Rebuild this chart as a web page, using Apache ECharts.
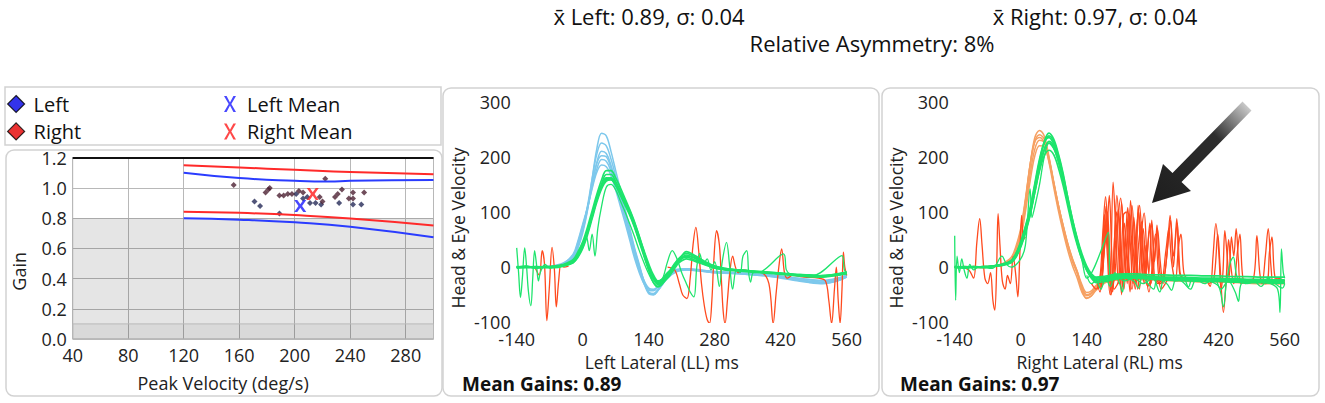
<!DOCTYPE html>
<html>
<head>
<meta charset="utf-8">
<script src="https://cdn.jsdelivr.net/npm/echarts@6/dist/echarts.min.js"></script>
<style>
  html, body { margin: 0; padding: 0; background: #fff; }
  #chart { width: 1325px; height: 403px; }
</style>
</head>
<body>
<div id="chart"></div>
<script>
// ---- gain vs peak velocity ----
const leftGainPoints = [
  [171, 0.91], [175, 0.88], [189, 0.83], [201, 0.96], [209, 0.94], [211, 0.90],
  [215, 0.90], [219, 0.89], [232, 0.90], [242, 0.89], [248, 0.89], [206, 0.93]
];
const rightGainPoints = [
  [156, 1.02], [182, 1.00], [181, 0.99], [179, 0.97], [222, 1.06], [189, 0.95],
  [192, 0.95], [195, 0.96], [198, 0.96], [203, 0.98], [206, 0.97], [218, 0.94],
  [229, 0.94], [231, 0.96], [234, 0.99], [239, 0.93], [242, 0.97], [242, 0.93],
  [250, 0.97], [220, 0.91]
];
const leftMean = [[204, 0.88]];
const rightMean = [[213, 0.96]];
const normUpperRed = [[120, 1.15], [160, 1.135], [200, 1.12], [240, 1.105], [300, 1.09]];
const normUpperBlue = [[120, 1.10], [160, 1.065], [200, 1.047], [225, 1.042], [240, 1.048], [300, 1.052]];
const normLowerRed = [[120, 0.843], [160, 0.835], [200, 0.82], [240, 0.798], [300, 0.752]];
const normLowerBlue = [[120, 0.80], [160, 0.79], [200, 0.772], [240, 0.743], [300, 0.673]];

// ---- impulse traces, sampled at these times (ms) ----
const traceTimes = [-140, -120, -100, -80, -60, -40, -20, -10, 0, 10,
  20, 30, 40, 50, 60, 70, 80, 90, 100, 110,
  120, 130, 140, 150, 160, 180, 200, 220, 240, 260,
  280, 300, 330, 360, 390, 420, 450, 480, 510, 540, 560];

const leftHeadTraces = [
  [0,0,0,0,1,3,15,35,62,102, 160,215,243,238,210,175,140,105,70,35, 5,-25,-45,-48,-40,-15,-5,-3,-5,-8, -10,-10,-12,-14,-16,-20,-24,-28,-30,-25, -18],
  [1,0,-1,0,2,5,18,40,70,110, 160,205,225,220,196,165,130,98,65,32, 2,-26,-46,-50,-42,-18,-6,-4,-6,-8, -9,-10,-11,-13,-15,-18,-22,-26,-28,-24, -17],
  [0,1,0,1,2,6,20,42,72,108, 150,190,210,206,185,156,124,92,60,28, 0,-24,-38,-40,-34,-12,-4,-3,-4,-6, -8,-9,-10,-12,-14,-17,-20,-23,-25,-21, -15],
  [0,0,1,0,3,8,22,45,75,106, 145,178,195,192,174,148,118,88,56,24, -4,-27,-40,-42,-35,-13,-5,-4,-5,-7, -8,-9,-11,-12,-13,-16,-19,-22,-24,-20, -14],
  [-1,0,0,1,2,7,24,48,78,108, 142,172,185,182,166,140,110,80,48,16, -10,-30,-42,-43,-35,-14,-6,-5,-6,-7, -9,-10,-11,-13,-15,-18,-21,-25,-27,-22, -16],
  [0,0,0,0,2,4,16,36,66,104, 150,188,202,200,180,150,120,88,55,22, -6,-30,-48,-50,-42,-20,-8,-5,-6,-8, -10,-11,-12,-14,-16,-19,-23,-27,-29,-25, -18]
];
const leftEyeTraces = [
  [0,2,-2,1,0,3,10,20,38,62, 92,122,150,168,168,155,138,120,102,80, 55,28,2,-20,-30,-15,10,18,12,5, 0,-3,-6,-8,-10,-12,-14,-15,-16,-14, -12],
  [-2,1,0,-1,2,4,12,24,42,66, 96,126,150,162,160,148,130,112,94,72, 46,20,-6,-28,-36,-18,8,22,15,6, -2,-5,-7,-9,-11,-13,-15,-17,-15,-13, -10],
  [1,0,1,0,-1,2,8,18,34,58, 88,118,142,156,158,150,134,116,98,78, 52,26,0,-18,-28,-12,12,25,18,8, 2,-2,-5,-7,-9,-11,-13,-14,-16,-12, -9],
  [0,-1,0,1,1,3,9,20,38,62, 92,122,146,158,160,150,134,116,96,74, 48,22,-2,-20,-26,-10,5,15,10,4, -1,-4,-6,-8,-10,-12,-14,-16,-17,-14, -11],
  [0,1,-1,0,1,5,14,28,46,72, 102,132,158,175,175,162,144,124,104,82, 56,30,6,-14,-25,-14,6,20,16,6, 0,-3,-5,-7,-9,-11,-13,-15,-16,-13, -10],
  [-1,0,0,0,2,4,11,22,40,64, 94,124,146,160,162,152,136,118,98,76, 50,24,-2,-22,-32,-20,4,28,20,10, 2,-2,-6,-8,-10,-12,-15,-17,-18,-15, -12]
];
const rightHeadTraces = [
  [0,0,0,0,1,3,12,30,62,118, 185,235,248,238,200,155,112,75,42,15, -8,-38,-52,-48,-38,-25,-20,-18,-18,-20, -20,-22,-22,-24,-25,-25,-26,-26,-27,-28, -28],
  [0,1,0,-1,2,5,15,34,66,120, 185,228,240,232,198,152,108,70,38,10, -12,-42,-57,-52,-40,-26,-22,-20,-19,-20, -21,-22,-23,-24,-24,-25,-25,-26,-26,-27, -27],
  [1,0,1,0,2,4,14,30,58,108, 168,214,230,226,196,154,112,74,40,12, -10,-36,-50,-46,-35,-22,-18,-16,-16,-17, -18,-19,-20,-21,-22,-22,-23,-24,-25,-25, -26],
  [0,0,0,1,1,3,10,26,52,100, 156,202,220,218,192,152,112,76,42,14, -8,-32,-46,-43,-33,-20,-16,-15,-15,-16, -17,-18,-19,-20,-21,-21,-22,-23,-24,-24, -25],
  [-1,0,0,0,2,6,18,38,70,124, 186,228,235,225,190,145,102,64,30,2, -20,-46,-56,-52,-42,-28,-24,-22,-22,-23, -23,-24,-25,-26,-27,-27,-28,-29,-30,-30, -30]
];
const rightEyeTraces = [
  [0,-2,1,0,2,4,10,22,42,68, 100,145,190,228,243,232,205,170,125,85, 50,20,-2,-15,-20,-18,-15,-14,-15,-16, -17,-18,-18,-19,-20,-20,-21,-22,-22,-23, -23],
  [1,0,-1,1,1,3,8,18,36,62, 94,136,178,212,228,220,196,160,118,80, 46,18,-4,-16,-22,-20,-16,-15,-16,-17, -18,-19,-20,-20,-21,-22,-22,-23,-24,-24, -24],
  [0,1,0,-1,2,5,12,25,46,74, 108,152,196,226,235,224,198,162,122,82, 48,18,-5,-18,-25,-22,-18,-17,-17,-18, -19,-20,-21,-22,-23,-24,-24,-25,-25,-26, -26],
  [-1,0,1,0,1,4,9,20,38,64, 96,136,175,202,212,204,180,148,110,72, 40,14,-6,-20,-28,-26,-22,-20,-20,-21, -22,-23,-24,-25,-26,-26,-27,-28,-28,-29, -29],
  [0,0,0,1,2,5,11,24,44,72, 104,148,192,225,238,228,202,166,126,86, 52,24,2,-12,-18,-16,-13,-12,-12,-13, -14,-14,-15,-15,-16,-16,-17,-17,-18,-18, -18],
  [1,-1,0,0,2,4,10,21,40,66, 98,140,182,214,225,216,192,156,118,80, 46,18,-3,-16,-24,-24,-20,-19,-19,-20, -21,-22,-23,-24,-25,-25,-26,-27,-27,-28, -28]
];

// noisy eye traces and saccades, as [ms, deg/s]
const leftNoisyEye = [[-140,35],[-136,-10],[-132,-55],[-128,-20],[-123,35],[-119,0],[-115,-45],[-110,-70],[-106,-20],[-102,30],[-98,5],[-94,-25],[-90,-10],[-85,0],[-80,5],[-70,-2],[-60,0],[-40,3],[-20,10],[-10,20],[0,35],[8,55],[14,30],[20,60],[26,20],[32,70],[40,110],[50,145],[60,150],[70,140],[80,120],[90,100],[100,78],[110,55],[120,30],[130,8],[140,-12],[150,-28],[160,-35],[170,-20],[180,10],[190,30],[200,15],[210,-10],[220,-30],[228,-45],[236,-54],[242,0],[248,25],[256,5],[264,15],[272,-5],[280,10],[290,-35],[296,10],[305,45],[312,0],[318,-40],[326,-5],[334,-10],[340,20],[348,30],[352,-10],[356,-27],[362,-10],[376,-9],[426,24],[432,-5],[440,-12],[480,-15],[489,-15],[550,21],[555,-5],[560,-10]];
const leftSaccadePre = [[-100,-3],[-92,-15],[-86,30],[-81,5],[-76,-97],[-71,-40],[-65,36],[-60,-5],[-56,-72],[-51,-25],[-46,5],[-40,0],[-30,2]];
const leftSaccadePost = [[180,0],[195,-5],[205,-30],[212,-50],[221,-57],[228,-20],[234,40],[240,72],[246,30],[252,-30],[258,-70],[264,-95],[269,-102],[274,-60],[278,10],[284,66],[290,40],[294,-20],[298,-80],[302,-102],[307,-60],[312,-10],[318,20],[324,0],[330,-10],[340,-5],[360,-8],[380,-10],[395,-30],[404,-102],[410,-50],[416,0],[422,33],[428,-10],[434,-20],[445,-15],[470,-18],[500,-20],[515,-25],[522,-60],[528,-102],[534,-40],[538,0],[542,-60],[546,-102],[550,-40],[553,27],[556,0],[560,-15]];

const rightNoisyEyes = [
  [[-140,57],[-138,-60],[-135,20],[-130,-10],[-125,15],[-120,-5],[-114,-20],[-108,5],[-100,-5],[-90,0],[-60,-2],[-40,20],[-30,5],[-20,0],[0,15],[10,40],[20,142],[24,90],[30,110],[40,150],[50,200],[60,225],[70,215],[80,190],[90,155],[100,115],[110,78],[120,42],[130,12],[140,-20],[186,63],[190,-20],[200,-15],[220,-25],[240,-20],[260,-30],[280,-20],[295,-45],[305,-20],[330,-25],[345,-20],[356,-36],[365,-20],[400,-25],[420,-35],[430,-72],[436,-30],[445,10],[451,18],[460,-20],[480,-30],[500,-25],[530,-30],[545,-40],[550,-82],[553,33],[557,-10],[560,-20]],
  [[140,-15],[150,-30],[160,-25],[170,-40],[180,-20],[190,-35],[200,-10],[210,-30],[216,-45],[222,-20],[240,-25],[250,-38],[258,-15],[270,-30],[282,-40],[290,-20],[310,-30],[320,-42],[330,-20],[345,-28],[360,-40],[372,-22],[390,-30],[410,-20],[425,-40],[440,-25],[455,-45],[462,-62],[468,-30],[490,-22],[510,-35],[525,-20],[540,-30],[555,-38],[560,-30]]
];
const rightSaccadePre = [[-125,0],[-110,-5],[-100,-20],[-93,45],[-87,88],[-82,40],[-76,-20],[-70,-30],[-64,-10],[-59,-60],[-55,-78],[-51,0],[-48,97],[-44,40],[-39,-25],[-33,-40],[-28,-15],[-22,-30],[-16,20],[-11,-10],[-6,-54],[-2,20],[2,94],[6,50],[10,55]];
const rightSaccadeBursts = [
  [[150,-30],[160,-40],[168,-20],[174,60],[180,128],[185,60],[190,-20],[196,154],[202,60],[207,-30],[214,118],[220,40],[226,-30],[233,121],[239,30],[244,-30],[249,112],[255,20],[260,-20],[266,40],[272,-10],[278,85],[284,10],[289,76],[295,-10],[302,-20],[310,20],[317,94],[324,0],[331,88],[337,-10],[345,-20],[360,-22]],
  [[160,-25],[170,-30],[176,40],[181,110],[186,40],[192,-40],[198,30],[204,130],[210,60],[216,-35],[222,40],[227,108],[232,50],[238,-30],[244,50],[250,100],[256,30],[262,-30],[268,20],[274,80],[280,-10],[290,-25],[300,-20]],
  [[165,-30],[172,0],[178,95],[184,20],[190,-50],[200,-10],[206,80],[212,125],[218,60],[224,-20],[230,40],[236,112],[242,40],[248,-40],[256,60],[262,98],[268,20],[276,-30],[284,20],[290,70],[296,10],[302,-30],[312,40],[318,85],[324,20],[332,80],[338,-10],[345,-25]],
  [[170,-40],[177,30],[183,70],[188,130],[193,30],[198,-40],[210,-20],[218,95],[224,100],[230,0],[236,-40],[244,30],[252,112],[258,40],[264,-20],[272,60],[278,78],[284,-20],[292,-30],[300,-20]],
  [[172,-35],[179,50],[184,100],[189,20],[195,-45],[201,40],[207,105],[213,30],[219,-40],[225,30],[231,96],[237,20],[243,-40],[250,40],[256,82],[262,0],[270,-35],[280,-20],[296,-30],[308,30],[314,70],[320,10],[328,-25],[335,40],[340,60],[346,-10],[355,-25]],
  [[160,-20],[168,-45],[175,10],[181,80],[187,0],[192,-50],[203,100],[208,20],[214,-50],[220,80],[226,20],[232,-45],[240,90],[246,10],[252,-40],[260,70],[266,-10],[272,-45],[286,60],[292,-10],[298,-40],[310,-25]]
];
const rightSaccadeLate = [
  [[395,-25],[402,-35],[408,20],[414,79],[420,30],[425,-40],[429,-10],[433,66],[438,20],[442,-20],[447,55],[452,20],[457,70],[462,10],[467,-30],[480,-25],[494,-20],[501,57],[507,-10],[512,-30],[519,20],[525,70],[531,0],[536,-30],[545,-20],[560,-25]],
  [[400,-30],[410,-20],[418,60],[423,0],[430,-82],[436,-20],[441,50],[446,0],[452,-30],[460,30],[465,60],[470,-10],[476,-30],[490,-25],[520,-30],[528,30],[533,55],[538,-10],[545,-30],[560,-28]]
];

// ---- build chart ----
const chart = echarts.init(document.getElementById('chart'), null, { renderer: 'svg' });

const FONT = 'Open Sans, sans-serif';
const pairUp = ys => traceTimes.map((t, i) => [t, ys[i]]);
const xMark = 'path://M0,0H3L6,4.2L9,0H12L7.8,6L12,12H9L6,7.8L3,12H0L4.2,6Z';
const xGlyph = 'path://M0,0H2.6L6,6.4L9.4,0H12L7.3,8L12,16H9.4L6,9.6L2.6,16H0L4.7,8Z';

function wave(grid, data, color, width) {
  return {
    type: 'line', xAxisIndex: grid, yAxisIndex: grid, data: data,
    smooth: 0.35, showSymbol: false, symbol: 'none', silent: true,
    lineStyle: { color: color, width: width }
  };
}
function normLine(data, color) {
  return {
    type: 'line', xAxisIndex: 0, yAxisIndex: 0, data: data, smooth: true,
    showSymbol: false, symbol: 'none', silent: true, lineStyle: { color: color, width: 2 }
  };
}

const headBlue = '#7dc8ec', headOrange = '#f6a062', eyeGreen = '#1de46c', sacRed = '#ff4a1e';

const series = [];
// shading and top line carried by the first norm series
const upperRed = normLine(normUpperRed, '#ff2a2a');
upperRed.markArea = {
  silent: true,
  data: [
    [{ yAxis: 0.1, itemStyle: { color: 'rgba(0,0,0,0.10)' } }, { yAxis: 0.8 }],
    [{ yAxis: 0, itemStyle: { color: 'rgba(0,0,0,0.15)', borderColor: '#b8b8b8', borderWidth: 1 } }, { yAxis: 0.1 }]
  ]
};
upperRed.markLine = {
  silent: true, symbol: 'none', label: { show: false },
  lineStyle: { color: '#111', width: 2, type: 'solid' },
  data: [{ yAxis: 1.2 }]
};
series.push(upperRed, normLine(normUpperBlue, '#2a3cff'), normLine(normLowerRed, '#ff2a2a'), normLine(normLowerBlue, '#2a3cff'));
series.push({
  name: 'Left', type: 'scatter', xAxisIndex: 0, yAxisIndex: 0, data: leftGainPoints,
  symbol: 'diamond', symbolSize: 6, itemStyle: { color: '#252a58' }
});
series.push({
  name: 'Right', type: 'scatter', xAxisIndex: 0, yAxisIndex: 0, data: rightGainPoints,
  symbol: 'diamond', symbolSize: 6, itemStyle: { color: '#4c2132' }
});
series.push({
  name: 'Left Mean', type: 'scatter', xAxisIndex: 0, yAxisIndex: 0, data: leftMean,
  symbol: xMark, symbolSize: 12, itemStyle: { color: '#1a1aff' }, z: 5
});
series.push({
  name: 'Right Mean', type: 'scatter', xAxisIndex: 0, yAxisIndex: 0, data: rightMean,
  symbol: xMark, symbolSize: 12, itemStyle: { color: '#ff1a1a' }, z: 5
});

// left lateral panel
leftHeadTraces.forEach(tr => series.push(wave(1, pairUp(tr), headBlue, 1.5)));
series.push(wave(1, leftSaccadePre, sacRed, 1.3));
series.push(wave(1, leftSaccadePost, sacRed, 1.3));
leftEyeTraces.forEach(tr => series.push(wave(1, pairUp(tr), eyeGreen, 1.7)));
series.push(wave(1, leftNoisyEye, eyeGreen, 1.3));

// right lateral panel
rightHeadTraces.forEach(tr => series.push(wave(2, pairUp(tr), headOrange, 1.5)));
series.push(wave(2, rightSaccadePre, sacRed, 1.3));
rightSaccadeBursts.forEach(tr => series.push(wave(2, tr, sacRed, 1.3)));
rightSaccadeLate.forEach(tr => series.push(wave(2, tr, sacRed, 1.3)));
rightEyeTraces.forEach(tr => series.push(wave(2, pairUp(tr), eyeGreen, 1.7)));
rightNoisyEyes.forEach(tr => series.push(wave(2, tr, eyeGreen, 1.3)));

const labelStyle = { fontSize: 18, color: '#222', fontFamily: FONT };
const waveX = (name) => ({
  type: 'value', min: -140, max: 560, interval: 140,
  axisLine: { show: false }, axisTick: { show: false }, splitLine: { show: false },
  axisLabel: Object.assign({ margin: 8 }, labelStyle),
  name: name, nameLocation: 'middle', nameGap: 30,
  nameTextStyle: { fontSize: 17.5, color: '#222', fontFamily: FONT, padding: [0, 40, 0, 0] }
});
const waveY = () => ({
  type: 'value', min: -100, max: 300, interval: 100,
  axisLine: { show: false }, axisTick: { show: false }, splitLine: { show: false },
  axisLabel: Object.assign({ margin: 6 }, labelStyle),
  name: 'Head & Eye Velocity', nameLocation: 'middle', nameGap: 50,
  nameTextStyle: { fontSize: 17.5, color: '#222', fontFamily: FONT, padding: [0, 32, 0, 0] }
});

const arrowFill = new echarts.graphic.LinearGradient(0, 1, 1, 0, [
  { offset: 0, color: '#1e1e1e' },
  { offset: 0.65, color: '#2e2e2e' },
  { offset: 1, color: '#e0e0e0' }
]);
const headFont = '22px "Open Sans", sans-serif';

chart.setOption({
  animation: false,
  textStyle: { fontFamily: FONT },
  title: [
    { text: 'Mean Gains: 0.89', left: 462, top: 374, padding: 0,
      textStyle: { fontSize: 19, fontWeight: 'bold', color: '#111', fontFamily: FONT } },
    { text: 'Mean Gains: 0.97', left: 900, top: 374, padding: 0,
      textStyle: { fontSize: 19, fontWeight: 'bold', color: '#111', fontFamily: FONT } }
  ],
  legend: [
    {
      orient: 'vertical', left: 7, top: 94, padding: 0, itemGap: 7.4, selectedMode: false,
      itemWidth: 17, itemHeight: 17,
      textStyle: { fontSize: 20, color: '#111', lineHeight: 20, fontFamily: FONT, padding: [0, 0, 0, 4] },
      data: [
        { name: 'Left', icon: 'diamond', itemStyle: { color: '#0000e6', borderColor: '#000', borderWidth: 1.2 } },
        { name: 'Right', icon: 'diamond', itemStyle: { color: '#e60000', borderColor: '#000', borderWidth: 1.2 } }
      ]
    },
    {
      orient: 'vertical', left: 224, top: 94, padding: 0, itemGap: 7.4, selectedMode: false,
      itemWidth: 12, itemHeight: 16, icon: xGlyph,
      textStyle: { fontSize: 20, color: '#111', lineHeight: 20, fontFamily: FONT, padding: [0, 0, 0, 6] },
      data: ['Left Mean', 'Right Mean']
    }
  ],
  grid: [
    { left: 72.7, top: 157.7, width: 360.8, height: 181.3, show: true,
      borderColor: '#b8b8b8', borderWidth: 1, backgroundColor: '#fff' },
    { left: 516.7, top: 101.7, width: 330, height: 220.6 },
    { left: 954.7, top: 101.7, width: 330, height: 220.6 }
  ],
  xAxis: [
    {
      gridIndex: 0, type: 'value', min: 40, max: 300, interval: 40,
      axisLine: { show: false }, axisTick: { show: false },
      splitLine: { lineStyle: { color: '#b8b8b8', width: 1 } },
      axisLabel: Object.assign({ margin: 7 }, labelStyle),
      name: 'Peak Velocity (deg/s)', nameLocation: 'middle', nameGap: 35,
      nameTextStyle: { fontSize: 18, color: '#222', fontFamily: FONT, padding: [0, 60, 0, 0] }
    },
    Object.assign({ gridIndex: 1 }, waveX('Left Lateral (LL) ms')),
    Object.assign({ gridIndex: 2 }, waveX('Right Lateral (RL) ms'))
  ],
  yAxis: [
    {
      gridIndex: 0, type: 'value', min: 0, max: 1.2, interval: 0.2,
      axisLine: { show: false }, axisTick: { show: false },
      splitLine: { lineStyle: { color: '#b8b8b8', width: 1 } },
      axisLabel: Object.assign({ margin: 6, formatter: v => v.toFixed(1) }, labelStyle),
      name: 'Gain', nameLocation: 'middle', nameGap: 45,
      nameTextStyle: { fontSize: 18, color: '#222', fontFamily: FONT, padding: [0, 46, 0, 0] }
    },
    Object.assign({ gridIndex: 1 }, waveY()),
    Object.assign({ gridIndex: 2 }, waveY())
  ],
  graphic: [
    { type: 'rect', silent: true, z: -1, shape: { x: 5, y: 87, width: 436, height: 58 },
      style: { fill: 'none', stroke: '#d2d2d2', lineWidth: 1.5 } },
    { type: 'rect', silent: true, z: -1, shape: { x: 6, y: 150, width: 436, height: 246, r: 8 },
      style: { fill: 'none', stroke: '#d2d2d2', lineWidth: 1.5 } },
    { type: 'rect', silent: true, z: -1, shape: { x: 443, y: 88, width: 436, height: 308, r: 8 },
      style: { fill: 'none', stroke: '#d2d2d2', lineWidth: 1.5 } },
    { type: 'rect', silent: true, z: -1, shape: { x: 882, y: 88, width: 437, height: 308, r: 8 },
      style: { fill: 'none', stroke: '#d2d2d2', lineWidth: 1.5 } },
    { type: 'polygon', silent: true, z: 10,
      shape: { points: [[1152, 203], [1163, 164], [1172.5, 173], [1242.5, 101.5], [1251.5, 110.5], [1181.5, 182], [1191, 191]] },
      style: { fill: arrowFill } },
    { type: 'text', silent: true, x: 649, y: 16,
      style: { text: 'x\u0304 Left: 0.89, \u03c3: 0.04', fill: '#111', font: headFont,
        textAlign: 'center', textVerticalAlign: 'middle' } },
    { type: 'text', silent: true, x: 1095, y: 16,
      style: { text: 'x\u0304 Right: 0.97, \u03c3: 0.04', fill: '#111', font: headFont,
        textAlign: 'center', textVerticalAlign: 'middle' } },
    { type: 'text', silent: true, x: 872, y: 43,
      style: { text: 'Relative Asymmetry: 8%', fill: '#111', font: headFont,
        textAlign: 'center', textVerticalAlign: 'middle' } }
  ],
  series: series
});
</script>
</body>
</html>
